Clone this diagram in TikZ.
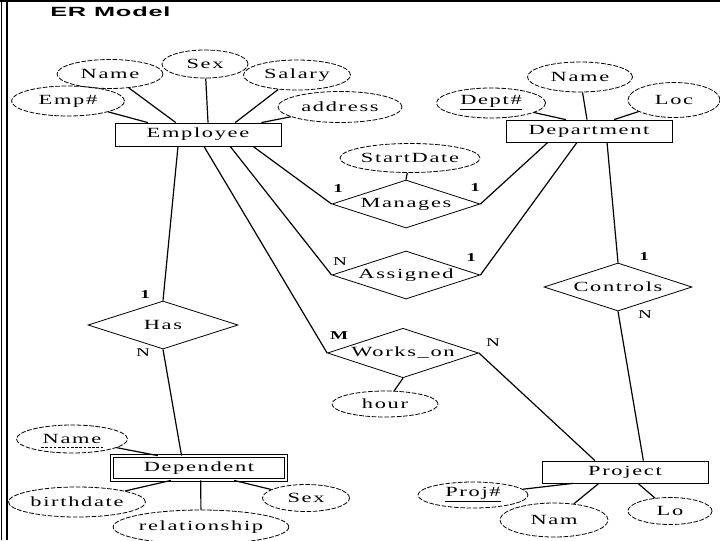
\documentclass[tikz,border=0pt]{standalone}
\usepackage{fontspec}
\setmainfont{Liberation Serif}[FakeStretch=1.6, LetterSpace=12]
\newfontfamily\titlefont{Liberation Sans}[FakeStretch=1.9, LetterSpace=6]
\usetikzlibrary{shapes.geometric,calc}
\tikzset{
  base/.style={font=\fontsize{10.5pt}{12pt}\selectfont},
  attr/.style 2 args={base, ellipse, draw, dash pattern=on 3.5pt off 1.2pt, line width=0.6pt,
    minimum width=#1*0.75pt, minimum height=#2*0.75pt, inner sep=0pt},
  ent/.style 2 args={base, rectangle, draw, line width=0.6pt,
    minimum width=#1*0.75pt, minimum height=#2*0.75pt, inner sep=0pt},
  rel/.style 2 args={base, diamond, draw, aspect=3, line width=0.6pt,
    minimum width=#1*0.75pt, minimum height=#2*0.75pt, inner sep=1pt},
  conn/.style={line width=0.9pt},
  card/.style={font=\fontsize{9pt}{10pt}\selectfont, inner sep=0pt},
}
\begin{document}
\begin{tikzpicture}[x=0.75pt,y=-0.75pt]
\useasboundingbox (0,0) rectangle (720,540);
% frame
\draw[line width=2pt] (0,1) -- (720,1);
\draw[line width=0.6pt] (1.5,0) -- (1.5,540);
\draw[line width=1.5pt] (6.5,0) -- (6.5,540);
\node[anchor=west, inner sep=0pt, font=\titlefont\bfseries\fontsize{10pt}{11pt}\selectfont] (title) at (50,12) {ER Model};

% Employee
\node[attr={106}{29}] (ename) at (110,74) {Name};
\node[attr={86}{28}] (esex) at (205,64) {Sex};
\node[attr={107}{30}] (esal) at (297,75) {Salary};
\node[attr={113}{30}] (eid) at (68,101) {Emp\#};
\node[attr={124}{31}] (eaddr) at (340,107) {address};
\node[ent={166}{23}] (emp) at (198,134.5) {Employee};

% Department
\node[attr={105}{30}] (dname) at (580,77) {Name};
\node[attr={109}{30}] (did) at (491,103) {\underline{Dept\#}};
\node[attr={92}{35}] (dloc) at (674,100) {Loc};
\node[ent={166}{22}] (dept) at (589,131) {Department};

% relationships
\node[attr={140}{29}] (sdate) at (410,158) {StartDate};
\node[rel={148}{48}] (man) at (406,204) {Manages};
\node[rel={148}{46}] (asg) at (406,275) {Assigned};
\node[rel={148}{48}] (ctl) at (618,287) {Controls};
\node[rel={151}{48}] (wo) at (403,353) {Works\_on};
\node[attr={106}{26}] (hour) at (385,404) {hour};
\node[rel={150}{48}] (has) at (163,325) {Has};

% Dependent
\node[ent={174}{24}, double, double distance=1.4pt, line width=0.6pt] (dep) at (199,468) {Dependent};
\node[attr={111}{28}] (depname) at (72,439) {Name};
\draw[line width=0.6pt, dash pattern=on 2pt off 1.2pt] ($(depname.base)+(-31,4)$) -- ($(depname.base)+(31,4)$);
\node[attr={137}{30}] (bdate) at (77,502) {birthdate};
\node[attr={164}{34}] (rship) at (201,527) {relationship};
\node[attr={87}{27}] (dsex) at (306,498) {Sex};

% Project
\node[ent={166}{22}] (proj) at (625,472) {Project};
\node[attr={110}{26}] (pid) at (473,495) {\underline{Proj\#}};
\node[attr={108}{34}] (pnam) at (554,520) {Nam};
\node[attr={84}{27}] (plo) at (670,511) {Lo};

% attribute connectors
\draw[conn] (eid) -- ($(emp.north west)!0.2!(emp.north east)$);
\draw[conn] (ename) -- ($(emp.north west)!0.367!(emp.north east)$);
\draw[conn] (esex) -- ($(emp.north west)!0.56!(emp.north east)$);
\draw[conn] (esal) -- ($(emp.north west)!0.723!(emp.north east)$);
\draw[conn] (eaddr) -- ($(emp.north west)!0.88!(emp.north east)$);

\draw[conn] (did) -- ($(dept.north west)!0.361!(dept.north east)$);
\draw[conn] (dname) -- ($(dept.north west)!0.488!(dept.north east)$);
\draw[conn] (dloc) -- ($(dept.north west)!0.65!(dept.north east)$);

\draw[conn] (sdate) -- (man.north);
\draw[conn] (wo.south) -- (hour);

\draw[conn] (depname) -- ($(dep.north west)!0.264!(dep.north east)$);
\draw[conn] (bdate) -- ($(dep.south west)!0.34!(dep.south east)$);
\draw[conn] (rship) -- ($(dep.south west)!0.51!(dep.south east)$);
\draw[conn] (dsex) -- ($(dep.south west)!0.70!(dep.south east)$);

\draw[conn] (pid) -- ($(proj.south west)!0.187!(proj.south east)$);
\draw[conn] (pnam) -- ($(proj.south west)!0.343!(proj.south east)$);
\draw[conn] (plo) -- ($(proj.south west)!0.578!(proj.south east)$);

% relationship connectors
\draw[conn] ($(emp.south west)!0.38!(emp.south east)$) -- (has.north);
\draw[conn] ($(emp.south west)!0.536!(emp.south east)$) -- (wo.west);
\draw[conn] ($(emp.south west)!0.693!(emp.south east)$) -- (asg.west);
\draw[conn] ($(emp.south west)!0.83!(emp.south east)$) -- (man.west);

\draw[conn] ($(dept.south west)!0.253!(dept.south east)$) -- (man.east);
\draw[conn] ($(dept.south west)!0.428!(dept.south east)$) -- (asg.east);
\draw[conn] ($(dept.south west)!0.608!(dept.south east)$) -- (ctl.north);

\draw[conn] (ctl.south) -- ($(proj.north west)!0.61!(proj.north east)$);
\draw[conn] (wo.east) -- ($(proj.north west)!0.32!(proj.north east)$);
\draw[conn] (has.south) -- ($(dep.north west)!0.4!(dep.north east)$);

% cardinalities
\node[card] (c1) at (339,189) {\textbf{1}};
\node[card] (c2) at (476,188) {\textbf{1}};
\node[card] (c3) at (340,262) {N};
\node[card] (c4) at (472,258) {\textbf{1}};
\node[card] (c5) at (645,257) {\textbf{1}};
\node[card] (c6) at (645,315) {N};
\node[card] (c7) at (340,336) {\textbf{M}};
\node[card] (c8) at (493,343) {N};
\node[card] (c9) at (146,295) {\textbf{1}};
\node[card] (c10) at (143,353) {N};
\end{tikzpicture}
\end{document}
